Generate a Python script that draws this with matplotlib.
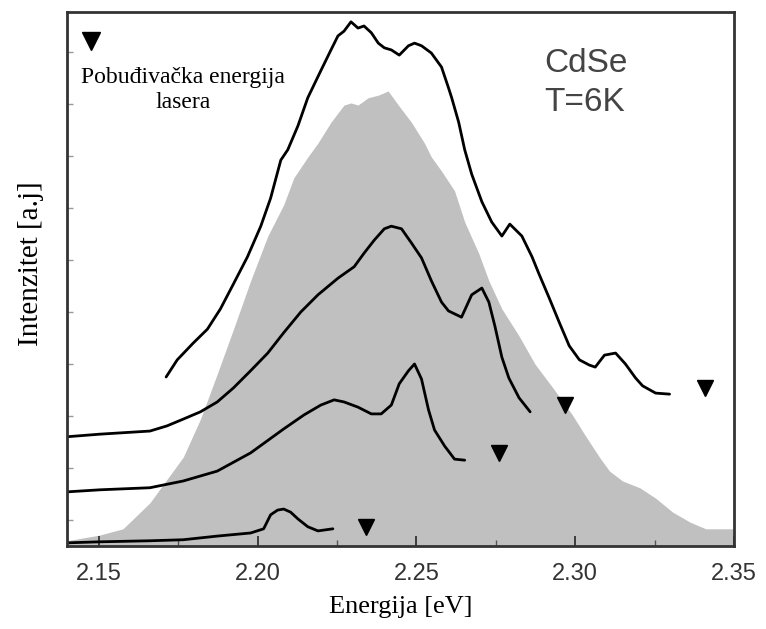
import matplotlib.pyplot as plt
import numpy as np

# background PL spectrum (grey fill)
e_bg = [2.1399, 2.1503, 2.1576, 2.1661, 2.1766, 2.1820, 2.1873, 2.1924, 2.1978, 2.2032,
        2.2082, 2.2114, 2.2158, 2.2190, 2.2231, 2.2272, 2.2294, 2.2316, 2.2348, 2.2380,
        2.2411, 2.2443, 2.2484, 2.2525, 2.2547, 2.2579, 2.2620, 2.2652, 2.2696, 2.2728,
        2.2769, 2.2823, 2.2873, 2.2937, 2.2991, 2.3032, 2.3076, 2.3108, 2.3149, 2.3203,
        2.3253, 2.3307, 2.3361, 2.3411, 2.3500]
i_bg = [0.10, 0.21, 0.33, 0.83, 1.71, 2.44, 3.31, 4.17, 5.10, 5.96,
        6.56, 7.08, 7.48, 7.75, 8.15, 8.48, 8.52, 8.48, 8.62, 8.67,
        8.75, 8.48, 8.15, 7.75, 7.48, 7.21, 6.83, 6.23, 5.63, 5.10,
        4.56, 4.04, 3.50, 2.98, 2.52, 2.12, 1.71, 1.44, 1.25, 1.12,
        0.92, 0.65, 0.46, 0.33, 0.33]

# selectively excited spectra
e1 = [2.1712, 2.1747, 2.1797, 2.1842, 2.1883, 2.1924, 2.1968, 2.2010, 2.2041, 2.2073,
      2.2095, 2.2127, 2.2158, 2.2199, 2.2231, 2.2253, 2.2272, 2.2294, 2.2316, 2.2335,
      2.2358, 2.2380, 2.2399, 2.2421, 2.2446, 2.2475, 2.2494, 2.2516, 2.2547, 2.2579,
      2.2601, 2.2611, 2.2633, 2.2652, 2.2674, 2.2706, 2.2737, 2.2769, 2.2794, 2.2832,
      2.2864, 2.2886, 2.2918, 2.2949, 2.2981, 2.3013, 2.3044, 2.3063, 2.3092, 2.3127,
      2.3158, 2.3190, 2.3212, 2.3253, 2.3297]
i1 = [3.25, 3.58, 3.90, 4.17, 4.56, 5.04, 5.56, 6.15, 6.69, 7.42,
      7.62, 8.08, 8.62, 9.14, 9.54, 9.81, 9.90, 10.08, 9.96, 10.00,
      9.87, 9.67, 9.58, 9.54, 9.44, 9.62, 9.67, 9.62, 9.48, 9.21,
      8.81, 8.62, 8.15, 7.62, 7.15, 6.62, 6.23, 5.96, 6.19, 5.96,
      5.56, 5.23, 4.77, 4.31, 3.85, 3.58, 3.48, 3.44, 3.67, 3.71,
      3.50, 3.23, 3.08, 2.94, 2.92]

e2 = [2.1399, 2.1503, 2.1661, 2.1715, 2.1766, 2.1820, 2.1873, 2.1924, 2.1978, 2.2032,
      2.2082, 2.2136, 2.2190, 2.2253, 2.2304, 2.2335, 2.2367, 2.2399, 2.2421, 2.2453,
      2.2484, 2.2516, 2.2547, 2.2579, 2.2601, 2.2642, 2.2674, 2.2706, 2.2728, 2.2747,
      2.2769, 2.2791, 2.2823, 2.2858]
i2 = [2.10, 2.15, 2.21, 2.31, 2.44, 2.58, 2.77, 3.04, 3.37, 3.71,
      4.10, 4.50, 4.83, 5.15, 5.37, 5.63, 5.88, 6.10, 6.15, 6.10,
      5.83, 5.54, 5.10, 4.69, 4.52, 4.40, 4.83, 4.96, 4.69, 4.23,
      3.63, 3.23, 2.85, 2.58]

e3 = [2.1399, 2.1503, 2.1661, 2.1766, 2.1873, 2.1978, 2.2082, 2.2146, 2.2199, 2.2241,
      2.2272, 2.2316, 2.2358, 2.2389, 2.2421, 2.2446, 2.2475, 2.2494, 2.2516, 2.2538,
      2.2557, 2.2589, 2.2620, 2.2652]
i3 = [1.04, 1.08, 1.12, 1.25, 1.44, 1.79, 2.25, 2.52, 2.71, 2.81,
      2.77, 2.67, 2.54, 2.54, 2.71, 3.12, 3.37, 3.50, 3.21, 2.62,
      2.23, 1.92, 1.67, 1.65]

e4 = [2.1399, 2.1503, 2.1661, 2.1766, 2.1873, 2.1978, 2.2019, 2.2041, 2.2063, 2.2082,
      2.2104, 2.2127, 2.2158, 2.2190, 2.2237]
i4 = [0.06, 0.08, 0.10, 0.12, 0.19, 0.25, 0.33, 0.60, 0.69, 0.71,
      0.65, 0.52, 0.37, 0.29, 0.33]

# laser excitation energies (triangles)
e_laser = [2.3408, 2.2968, 2.2760, 2.2342]
i_laser = [3.04, 2.71, 1.79, 0.37]

fig = plt.figure(figsize=(7.66, 6.29), dpi=100)
ax = fig.add_axes([0.0875, 0.132, 0.8708, 0.849])

ax.fill_between(e_bg, 0, i_bg, color='#c0c0c0', linewidth=0)
for e, i in [(e1, i1), (e2, i2), (e3, i3), (e4, i4)]:
    ax.plot(e, i, color='black', lw=2.0, solid_capstyle='round')
ax.plot(e_laser, i_laser, 'v', color='black', markersize=11, linestyle='none')
ax.plot([2.1475], [9.71], 'v', color='black', markersize=13)

ax.set_xlim(2.14, 2.35)
ax.set_ylim(0, 10.27)
ax.set_xticks([2.15, 2.20, 2.25, 2.30, 2.35])
ax.set_xticklabels(['2.15', '2.20', '2.25', '2.30', '2.35'])
ax.set_xticks(np.arange(2.175, 2.35, 0.05), minor=True)
ax.set_yticks(np.arange(0.5, 10, 1.0))
ax.set_yticklabels([])
ax.tick_params(axis='x', which='major', direction='in', length=7, width=1.3,
               color='#333333', labelsize=17, labelcolor='#333333', pad=12)
ax.tick_params(axis='x', which='minor', direction='in', length=4, width=1.0, color='#555555')
ax.tick_params(axis='y', direction='in', length=4, width=1.0, color='#999999')
for lab in ax.get_xticklabels():
    lab.set_family('Liberation Sans')
for sp in ax.spines.values():
    sp.set_linewidth(2)
    sp.set_color('#333333')

ax.set_xlabel('Energija [eV]', family='Liberation Serif', fontsize=19, labelpad=8)
fig.text(31 / 766, 1 - 264 / 629, 'Intenzitet [a.j]', family='Liberation Serif',
         fontsize=21, rotation=90, ha='center', va='center')

ax.text(2.1764, 8.77, 'Pobuđivačka energija\nlasera', family='Liberation Serif',
        fontsize=17, ha='center', va='center', linespacing=1.3)
ax.text(2.2903, 8.90, 'CdSe\nT=6K', family='Liberation Sans', fontsize=24,
        color='#444444', ha='left', va='center', linespacing=1.35)

fig.savefig('out.png', dpi=100)
